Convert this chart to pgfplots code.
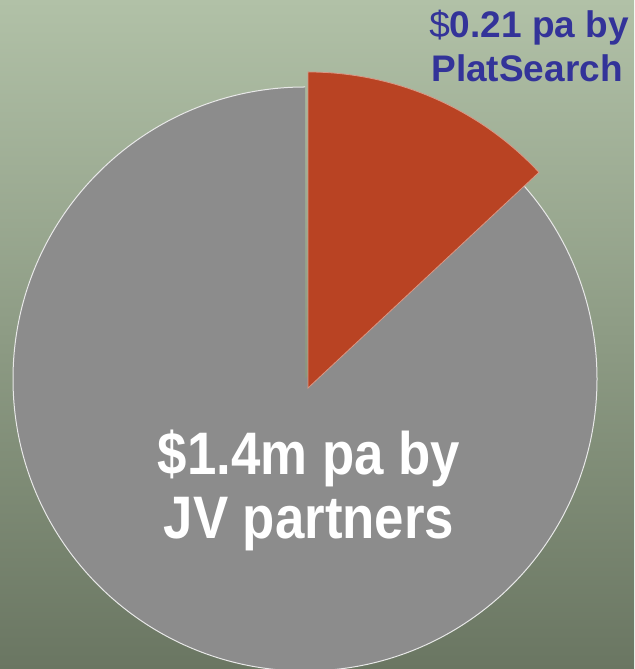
\documentclass[border=0pt]{standalone}
\usepackage{pgfplots}
\pgfplotsset{compat=1.18}
\usepackage{fontspec}
\setmainfont{Liberation Sans}
\definecolor{bgtop}{HTML}{B1C1A7}
\definecolor{bgbottom}{HTML}{6A7662}
\definecolor{piegray}{HTML}{8C8C8C}
\definecolor{piered}{HTML}{B94323}
\definecolor{labelblue}{HTML}{333399}

% pie values ($m pa)
\pgfmathsetmacro{\jv}{1.4}
\pgfmathsetmacro{\plat}{0.21}
\pgfmathsetmacro{\platangle}{360*\plat/(\jv+\plat)}
\pgfmathsetmacro{\platstart}{90-\platangle}
\pgfmathsetmacro{\jvend}{450-\platangle}

\begin{document}
\begin{tikzpicture}
  \begin{axis}[
    scale only axis,
    width=317pt,
    height=334.5pt,
    xmin=0, xmax=634,
    ymin=0, ymax=669,
    axis lines=none,
    ticks=none,
  ]
    % background
    \fill[top color=bgtop, bottom color=bgbottom]
      (rel axis cs:0,0) rectangle (rel axis cs:1,1);
    % JV partners slice (centre 305,290, radius 292 px)
    \fill[piegray]
      (axis cs:305,290) -- (axis cs:305,582)
      arc[start angle=90, end angle=\jvend, radius=146pt] -- cycle;
    \draw[white!80!piegray, line width=0.5pt]
      (axis cs:305,582) arc[start angle=90, end angle=\jvend, radius=146pt];
    % PlatSearch slice, exploded (apex 308,281, radius 316 px)
    \fill[piered, draw=piered!55!white, line width=0.4pt]
      (axis cs:308,281) -- (axis cs:308,597)
      arc[start angle=90, end angle=\platstart, radius=158pt] -- cycle;
    % labels
    \node[anchor=base, text=white, font=\fontsize{30}{32}\selectfont\bfseries]
      at (axis cs:309,194) {\scalebox{0.88}[1]{\$1.4m pa by}};
    \node[anchor=base, text=white, font=\fontsize{30}{32}\selectfont\bfseries]
      at (axis cs:309,130) {\scalebox{0.88}[1]{JV partners}};
    \node[anchor=base, text=labelblue, font=\fontsize{18.5}{22}\selectfont\bfseries]
      at (axis cs:529,631) {\textmd{\$}0.21 pa by};
    \node[anchor=base, text=labelblue, font=\fontsize{18.5}{22}\selectfont\bfseries]
      at (axis cs:527,587) {PlatSearch};
  \end{axis}
  \pgfresetboundingbox
  \path (current axis.south west) rectangle (current axis.north east);
\end{tikzpicture}
\end{document}
